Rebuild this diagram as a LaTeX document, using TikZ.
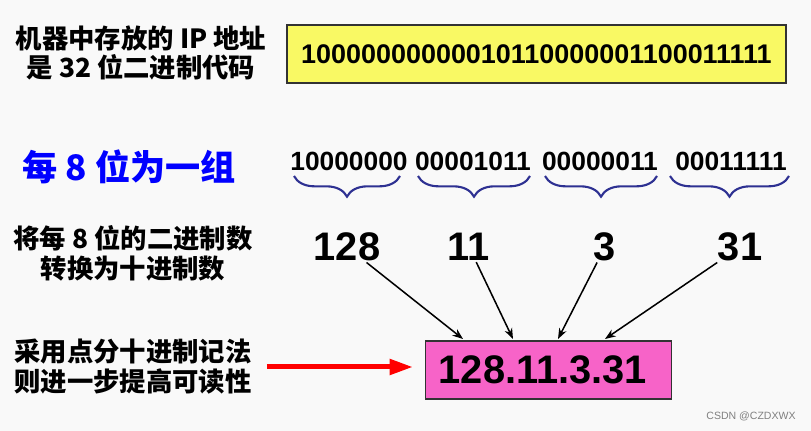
\documentclass[tikz,border=0pt]{standalone}
\usepackage{fontspec}
\setmainfont{Liberation Sans}
\newfontfamily\cjk{Noto Sans CJK SC}
\usetikzlibrary{arrows.meta,decorations.pathreplacing}
\definecolor{BinYellow}{HTML}{F9F964}
\definecolor{DotPink}{HTML}{F763C8}
\definecolor{BraceBlue}{HTML}{2E3192}
\definecolor{PageGray}{HTML}{F9F9F9}

\begin{document}
\begin{tikzpicture}[x=0.03cm,y=-0.03cm,
 note/.style={font=\cjk\bfseries\fontsize{22.5}{25.5}\selectfont,align=center},
 bits/.style={font=\bfseries\fontsize{22.5}{26}\selectfont},
 dec/.style={font=\bfseries\fontsize{34}{38}\selectfont},
 brace/.style={decorate,decoration={brace,mirror,amplitude=0.62cm},draw=BraceBlue,line width=1.8pt},
 arrow/.style={-{Stealth[length=0.32cm,width=0.24cm]},line width=1.3pt},
 redarrow/.style={-{Triangle[length=0.7cm,width=0.45cm]},draw=red,line width=0.15cm}]
\fill[PageGray] (0,0) rectangle (811,431);
\node[note] (stored) at (141,53) {机器中存放的 IP 地址\\是 32 位二进制代码};
\node[draw=black!80,line width=1.2pt,fill=BinYellow,minimum width=14.97cm,minimum height=1.74cm,bits,font=\bfseries\fontsize{23}{26}\selectfont] (bin) at (536.5,54) {10000000000010110000001100011111};
\node[note,text=blue,font=\cjk\bfseries\fontsize{30}{32}\selectfont] (group) at (129,167) {每 8 位为一组};
\foreach \n/\x/\b/\l/\r in {g1/349/10000000/294/400,g2/473/00001011/418/530,g3/600/00000011/545/657,g4/731/00011111/670/789} {
 \node[bits] (\n) at (\x,161) {\b};
 \draw[brace] (\l,176) -- (\r,176);}
\node[note] (convert) at (133,253) {将每 8 位的二进制数\\转换为十进制数};
\foreach \n/\x/\v in {d1/347/128,d2/469/11,d3/605/3,d4/740/31} \node[dec,inner sep=1pt] (\n) at (\x,247) {\v};
\node[note] (rule) at (133,367) {采用点分十进制记法\\则进一步提高可读性};
\node[draw=black!80,line width=1.2pt,fill=DotPink,anchor=west,minimum height=1.74cm,text width=6.6cm,align=left,inner xsep=0.39cm,dec] (ip) at (425,370) {128.11.3.31};
\foreach \n/\x in {d1/463,d2/513,d3/558,d4/605} {
 \coordinate (t\n) at (\x,339);
 \draw[arrow] (\n) -- (t\n);}
\draw[redarrow,shorten <=0.33cm,shorten >=0.36cm] (rule.east) -- (rule.east -| ip.west);
\node[text=gray,font=\fontsize{9}{10}\selectfont] (mark) at (751,416) {CSDN @CZDXWX};
\end{tikzpicture}
\end{document}
